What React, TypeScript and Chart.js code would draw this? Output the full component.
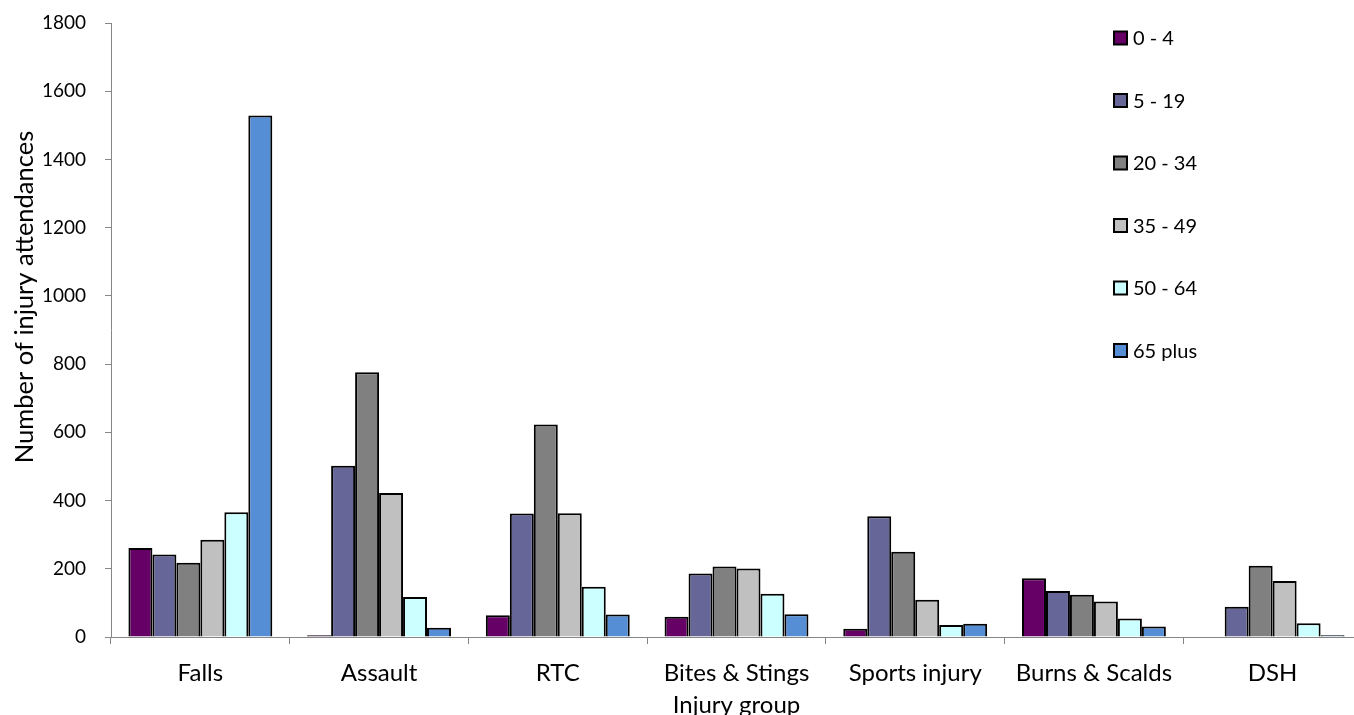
import React, { useEffect, useRef } from "react";
import { Chart, registerables } from "chart.js";

Chart.register(...registerables);

const categories = ["Falls", "Assault", "RTC", "Bites & Stings", "Sports injury", "Burns & Scalds", "DSH"];
const seriesNames = ["0 - 4", "5 - 19", "20 - 34", "35 - 49", "50 - 64", "65 plus"];
const age0to4 = [261, 5, 64, 59, 24, 172, 0];
const age5to19 = [242, 502, 362, 186, 354, 135, 89];
const age20to34 = [218, 776, 623, 207, 250, 124, 209];
const age35to49 = [285, 422, 363, 201, 109, 104, 164];
const age50to64 = [366, 117, 147, 127, 35, 54, 40];
const age65plus = [1529, 27, 66, 67, 39, 31, 5];
const colors = ["#660066", "#666699", "#808080", "#C0C0C0", "#CCFFFF", "#558ED5"];
const yTicks = [0, 200, 400, 600, 800, 1000, 1200, 1400, 1600, 1800];
const yTitle = "Number of injury attendances";
const xTitle = "Injury group";

const FONT = "Lato, 'Open Sans', sans-serif";

const legendPlugin = {
  id: "customLegend",
  afterDraw(chart: any) {
    const ctx = chart.ctx;
    ctx.save();
    const x = 1114;
    const y0 = 38;
    const step = 62.5;
    chart.data.datasets.forEach((ds: any, i: number) => {
      const cy = y0 + i * step;
      ctx.fillStyle = ds.backgroundColor;
      ctx.fillRect(x, cy - 6.5, 13, 13);
      ctx.lineWidth = 2;
      ctx.strokeStyle = "#000";
      ctx.strokeRect(x, cy - 6.5, 13, 13);
      ctx.fillStyle = "#000";
      ctx.font = `20px ${FONT}`;
      ctx.textBaseline = "middle";
      ctx.textAlign = "left";
      ctx.fillText(ds.label, 1133, cy + 1);
    });
    // y-axis title
    ctx.translate(25, 297);
    ctx.rotate(-Math.PI / 2);
    ctx.font = `25.5px ${FONT}`;
    ctx.textAlign = "center";
    ctx.textBaseline = "middle";
    ctx.fillStyle = "#000";
    ctx.fillText(yTitle, 0, 0);
    ctx.restore();
  },
};

export default function App() {
  const ref = useRef<HTMLCanvasElement>(null);
  useEffect(() => {
    document.body.style.margin = "0";
    const series = [age0to4, age5to19, age20to34, age35to49, age50to64, age65plus];
    const chart = new Chart(ref.current!, {
      type: "bar",
      data: {
        labels: categories,
        datasets: series.map((d, i) => ({
          label: seriesNames[i],
          data: d,
          backgroundColor: colors[i],
          borderColor: "#000",
          borderWidth: 2,
          borderSkipped: "bottom" as const,
          categoryPercentage: 0.805,
          barPercentage: 1,
        })),
      },
      options: {
        responsive: false,
        animation: false,
        devicePixelRatio: 1,
        layout: { padding: { top: 23, left: 0, right: 0, bottom: 0 } },
        plugins: { legend: { display: false }, tooltip: { enabled: false } },
        scales: {
          x: {
            grid: { offset: true, drawOnChartArea: false, tickLength: 7, color: "#868686" },
            border: { color: "#868686", width: 1 },
            ticks: { color: "#000", font: { family: FONT, size: 24 }, padding: 15, maxRotation: 0 },
            title: {
              display: true,
              text: xTitle,
              color: "#000",
              font: { family: FONT, size: 24, lineHeight: 1 },
              padding: { top: 0, bottom: 10 },
            },
            afterFit(scale: any) {
              scale.height = 90;
            },
          },
          y: {
            min: 0,
            max: 1800,
            afterBuildTicks(scale: any) {
              scale.ticks = yTicks.map((v) => ({ value: v }));
            },
            grid: { drawOnChartArea: false, tickLength: 6, color: "#868686" },
            border: { color: "#868686", width: 1 },
            ticks: {
              color: "#000",
              font: { family: FONT, size: 19 },
              padding: 19,
              callback: (v: any) => String(v),
            },
            title: { display: false },
            afterFit(scale: any) {
              scale.width = 111;
              scale.paddingTop = 8;
              scale.paddingBottom = 8;
            },
          },
        },
      },
      plugins: [legendPlugin],
    });
    return () => chart.destroy();
  }, []);
  return (
    <div style={{ width: 1354, height: 715, overflow: "hidden", background: "#fff" }}>
      <canvas ref={ref} width={1362} height={727} />
    </div>
  );
}
